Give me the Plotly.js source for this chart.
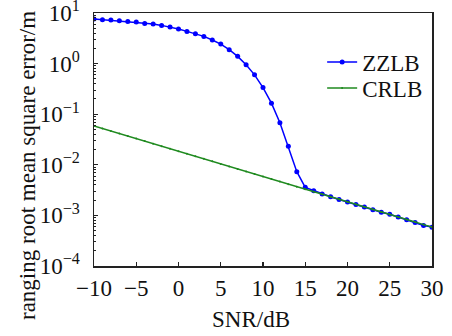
<!DOCTYPE html>
<html>
<head>
<meta charset="utf-8">
<script src="https://cdn.plot.ly/plotly-3.0.1.min.js"></script>
<style>html,body{margin:0;padding:0;background:#fff;}#chart{width:452px;height:336px;}</style>
</head>
<body>
<div id="chart"></div>
<script>
var snr = [-10,-9,-8,-7,-6,-5,-4,-3,-2,-1,0,1,2,3,4,5,6,7,8,9,10,11,12,13,14,15,16,17,18,19,20,21,22,23,24,25,26,27,28,29,30];
var zzlb = [7.6,7.37,7.26,7.04,6.83,6.62,6.23,6.05,5.69,5.27,4.81,4.33,3.89,3.45,2.92,2.43,1.88,1.39,0.946,0.60,0.336,0.165,0.068,0.0232,0.0073,0.00358,0.00307,0.00264,0.00233,0.00207,0.00183,0.00165,0.00146,0.00129,0.00115,0.00105,0.000925,0.000818,0.000726,0.000634,0.000586];
var crlb = [0.0586,0.0522,0.0466,0.0415,0.0370,0.0330,0.0294,0.0262,0.0233,0.0208,0.0185,0.0165,0.0147,0.0131,0.0117,0.0104,0.00929,0.00828,0.00738,0.00658,0.00586,0.00522,0.00466,0.00415,0.00370,0.00330,0.00294,0.00262,0.00233,0.00208,0.00185,0.00165,0.00147,0.00131,0.00117,0.00104,0.000929,0.000828,0.000738,0.000658,0.000586];
var xTicks = [-10,-5,0,5,10,15,20,25,30];
var yTickVals = [1e-4,1e-3,1e-2,1e-1,1,10];
var yTickText = ['10<sup>−4</sup>','10<sup>−3</sup>','10<sup>−2</sup>','10<sup>−1</sup>','10<sup>0</sup>','10<sup>1</sup>'];
var seriesNames = ['ZZLB','CRLB'];
var xTitle = 'SNR/dB';
var yTitle = 'ranging root mean square error/m';

var font = {family: 'Liberation Serif, Times New Roman, Times, serif', size: 23, color: '#111'};

var traces = [
  {x: snr, y: zzlb, name: seriesNames[0], type: 'scatter', mode: 'lines+markers', legend: 'legend',
   line: {color: '#0000ff', width: 1.5}, marker: {color: '#0000ff', size: 5, symbol: 'circle'}},
  {x: snr, y: crlb, name: seriesNames[1], type: 'scatter', mode: 'lines+markers', legend: 'legend2',
   line: {color: '#1f8a1f', width: 1.5}, marker: {color: '#1f8a1f', size: 2, symbol: 'circle'}}
];

var legendBase = {xanchor: 'left', yanchor: 'middle', bgcolor: 'rgba(255,255,255,0)', borderwidth: 0, font: font};

var layout = {
  width: 452, height: 336,
  margin: {l: 94, r: 20, t: 13, b: 70, pad: 0},
  paper_bgcolor: '#fff', plot_bgcolor: '#fff',
  font: font,
  showlegend: true,
  legend: Object.assign({}, legendBase, {x: 0.675, y: 1 - (62 - 13) / 253}),
  legend2: Object.assign({}, legendBase, {x: 0.675, y: 1 - (88 - 13) / 253}),
  xaxis: {range: [-10, 30], tickvals: xTicks, ticks: 'inside', ticklen: 4, tickwidth: 1.2,
          tickcolor: '#222', showline: true, linecolor: '#222', linewidth: 1.5, mirror: true,
          showgrid: false, zeroline: false, tickfont: font, ticklabelstandoff: 1,
          ticklabeloverflow: 'allow'},
  yaxis: {type: 'log', range: [-4, 1], tickvals: yTickVals, ticktext: yTickText,
          ticks: 'inside', ticklen: 4, tickwidth: 1.2, tickcolor: '#222',
          minor: {ticks: 'inside', ticklen: 2, tickcolor: '#222', tickwidth: 1, dtick: 'D1', showgrid: false},
          showline: true, linecolor: '#222', linewidth: 1.5, mirror: true,
          showgrid: false, zeroline: false, tickfont: font, ticklabelstandoff: 8,
          ticklabeloverflow: 'allow'},
  annotations: [
    {text: xTitle, xref: 'paper', yref: 'paper', x: (251 - 94) / 338, y: -(319 - 266) / 253,
     xanchor: 'center', yanchor: 'middle', showarrow: false, font: font},
    {text: yTitle, xref: 'paper', yref: 'paper', x: (27 - 94) / 338, y: 1 - (166 - 13) / 253,
     xanchor: 'center', yanchor: 'middle', showarrow: false, textangle: -90, font: font}
  ]
};

Plotly.newPlot('chart', traces, layout, {staticPlot: true, displayModeBar: false});
</script>
</body>
</html>
